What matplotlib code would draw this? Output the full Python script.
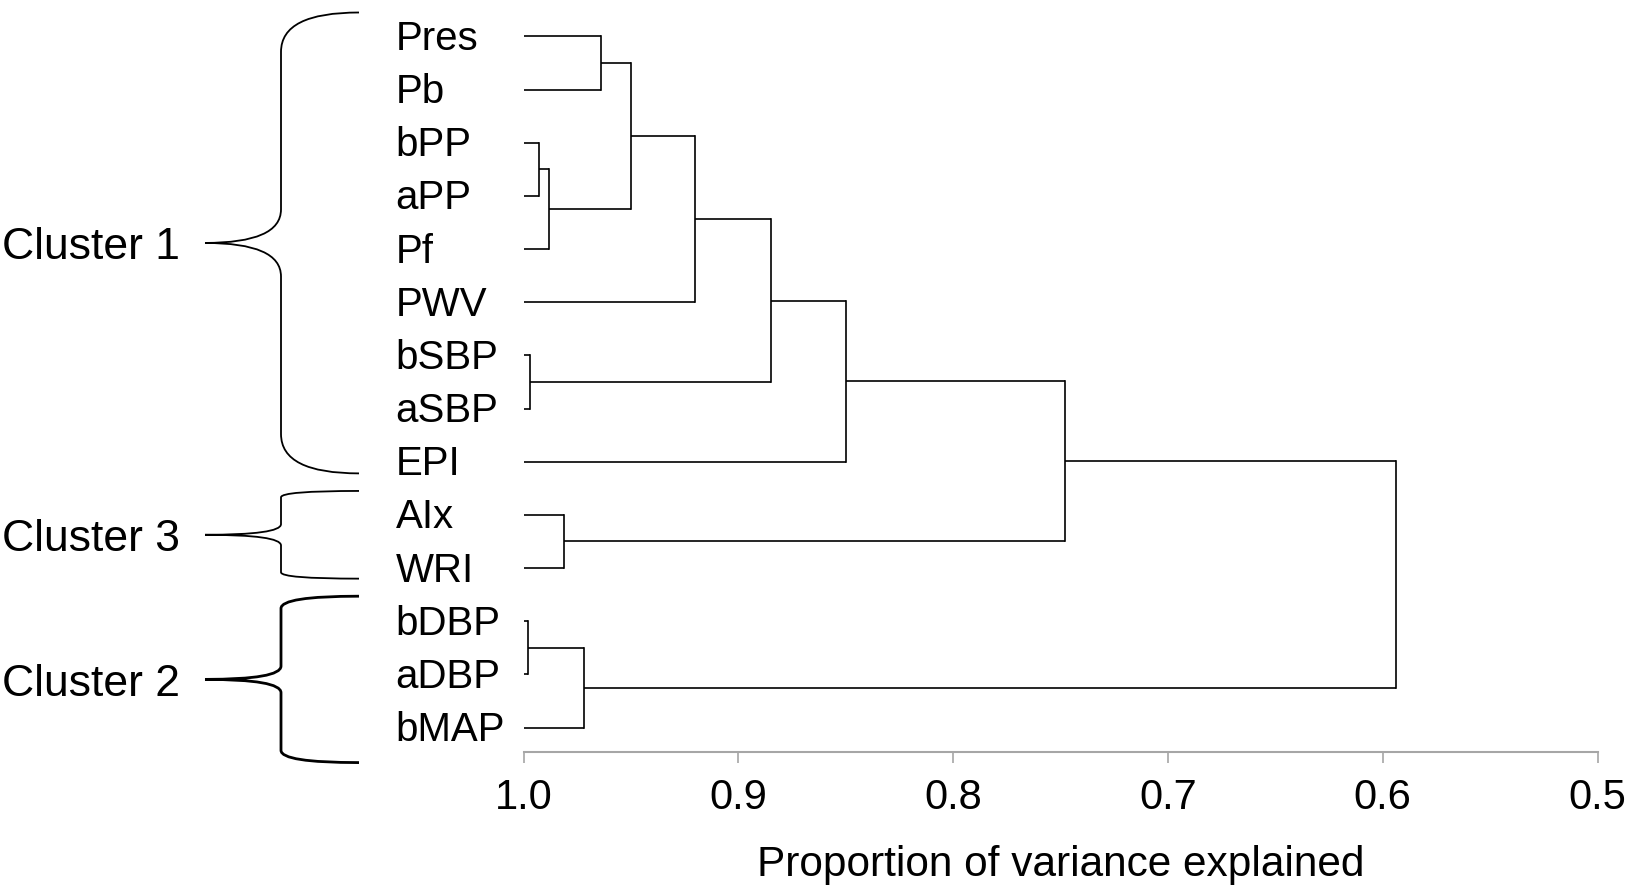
import matplotlib
matplotlib.use('Agg')
import matplotlib.pyplot as plt
import matplotlib.transforms as mtransforms
from matplotlib.path import Path
import matplotlib.patches as mpatches

plt.rcParams['font.family'] = ['Liberation Sans', 'DejaVu Sans']

# leaves, top to bottom
labels = ['Pres', 'Pb', 'bPP', 'aPP', 'Pf', 'PWV', 'bSBP', 'aSBP', 'EPI',
          'AIx', 'WRI', 'bDBP', 'aDBP', 'bMAP']

# merges (scipy-style node ids: leaves 0..13, new nodes 14..)
merge_a = [0, 2, 15, 14, 17, 6, 18, 20, 9, 21, 11, 24, 23]
merge_b = [1, 3, 4, 16, 5, 7, 19, 8, 10, 22, 12, 13, 25]
merge_h = [0.964, 0.993, 0.988, 0.950, 0.920, 0.997, 0.885, 0.850,
           0.981, 0.748, 0.998, 0.972, 0.594]

ticks = [1.0, 0.9, 0.8, 0.7, 0.6, 0.5]
tick_labels = ['1.0', '0.9', '0.8', '0.7', '0.6', '0.5']

clusters = ['Cluster 1', 'Cluster 3', 'Cluster 2']
cluster_span = [(-0.45, 8.22), (8.55, 10.2), (10.53, 13.66)]
cluster_r = [(0.74, 0.63), (0.12, 0.2), (0.23, 0.25)]
cluster_lw = [1.3, 1.3, 2.0]

W, H = 1632, 888
fig = plt.figure(figsize=(W / 100, H / 100), dpi=100)
fig.patch.set_facecolor('white')
ax = fig.add_axes([523.5 / W, 0.1532, (1597.6 - 523.5) / W, 0.8465])

# node positions
n = len(labels)
node_y = {i: float(i) for i in range(n)}
node_h = {i: 1.0 for i in range(n)}
for k, (a, b, h) in enumerate(zip(merge_a, merge_b, merge_h)):
    ya, yb = node_y[a], node_y[b]
    ax.plot([node_h[a], h], [ya, ya], color='black', lw=1.2, solid_capstyle='butt')
    ax.plot([node_h[b], h], [yb, yb], color='black', lw=1.2, solid_capstyle='butt')
    ax.plot([h, h], [ya, yb], color='black', lw=1.2, solid_capstyle='projecting')
    node_y[n + k] = (ya + yb) / 2
    node_h[n + k] = h

ax.set_xlim(1.0, 0.5)
ax.set_ylim(13.46, -0.68)
ax.set_xticks(ticks)
ax.set_xticklabels(tick_labels, fontsize=30)
ax.set_yticks([])
for s in ['top', 'right', 'left']:
    ax.spines[s].set_visible(False)
ax.spines['bottom'].set_color('#a6a6a6')
ax.spines['bottom'].set_linewidth(1.5)
ax.tick_params(axis='x', direction='out', length=8, width=1.2, color='#a6a6a6', pad=11)
ax.set_xlabel('Proportion of variance explained', fontsize=30.5, labelpad=19)

# leaf labels (baseline set so cap centre sits on the branch)
tr = mtransforms.blended_transform_factory(fig.transFigure, ax.transData)
for i, lab in enumerate(labels):
    ax.text(395.5 / W, i + 0.255, lab, transform=tr, ha='left', va='baseline', fontsize=29)

# braces
xr, xs, xt = 359 / W, 281 / W, 205 / W
for name, (y0, y1), (r1, r2), lw in zip(clusters, cluster_span, cluster_r, cluster_lw):
    ym = (y0 + y1) / 2
    verts = [(xr, y0), (xs, y0), (xs, y0 + r1),
             (xs, ym - r2), (xs, ym), (xt, ym),
             (xs, ym), (xs, ym + r2),
             (xs, y1 - r1), (xs, y1), (xr, y1)]
    codes = [Path.MOVETO, Path.CURVE3, Path.CURVE3,
             Path.LINETO, Path.CURVE3, Path.CURVE3,
             Path.CURVE3, Path.CURVE3,
             Path.LINETO, Path.CURVE3, Path.CURVE3]
    patch = mpatches.PathPatch(Path(verts, codes), transform=tr, facecolor='none',
                               edgecolor='black', lw=lw, clip_on=False)
    ax.add_patch(patch)
    ax.text(2 / W, ym + 0.31, name, transform=tr, ha='left', va='baseline', fontsize=32)

fig.savefig('out.png', dpi=100, facecolor='white')
